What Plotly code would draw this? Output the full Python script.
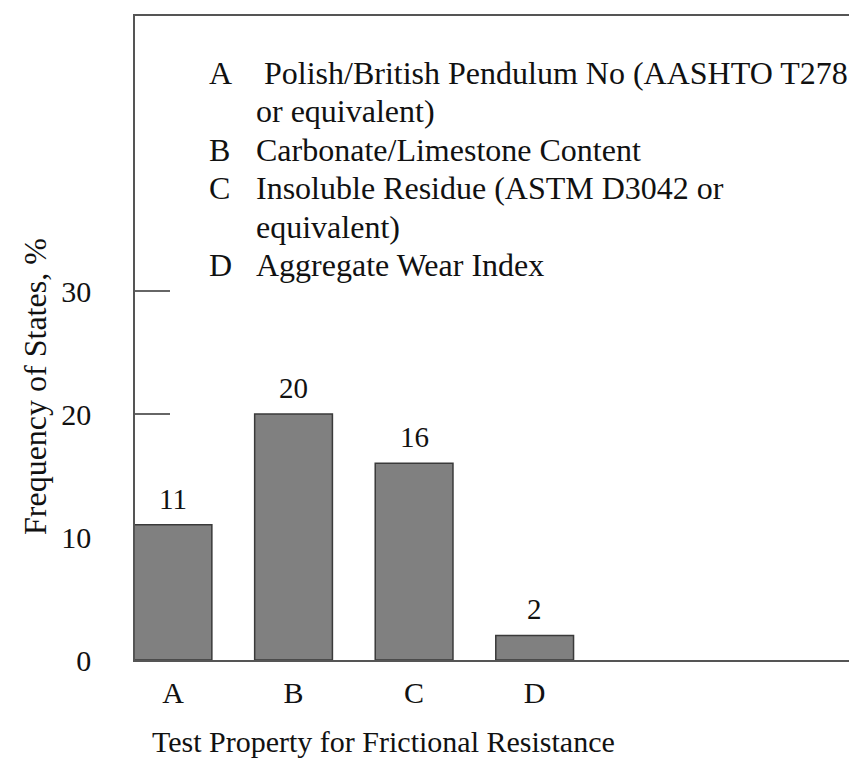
import plotly.graph_objects as go

categories = ["A", "B", "C", "D"]
values = [11, 20, 16, 2]
value_labels = ["11", "20", "16", "2"]
y_ticks = [0, 10, 20, 30]
legend_letters = ["A", "", "B", "C", "", "D"]
legend_texts = ["&nbsp;Polish/British Pendulum No (AASHTO T278", "or equivalent)",
                "Carbonate/Limestone Content", "Insoluble Residue (ASTM D3042 or",
                "equivalent)", "Aggregate Wear Index"]

W, H = 857, 762
L, R, T, B = 127, 0, 8, 110
FONT = "Liberation Serif, Times New Roman, serif"

fig = go.Figure()
fig.add_trace(go.Bar(
    x=categories, y=values, width=0.645,
    marker=dict(color="#808080", line=dict(color="#3a3a3a", width=1.5)),
    showlegend=False, hoverinfo="x+y",
))

for c, v, t in zip(categories, values, value_labels):
    fig.add_annotation(x=c, y=v, text=t, showarrow=False, yanchor="bottom",
                       yshift=8, font=dict(family=FONT, size=29, color="#111"))

plot_w = W - L - R
plot_h = H - T - B
def px_x(px):
    return (px - L) / plot_w
def px_y(py):
    return (H - B - py) / plot_h

y0 = 65
for i, (let, txt) in enumerate(zip(legend_letters, legend_texts)):
    yy = y0 + i * 38.4
    if let:
        fig.add_annotation(xref="paper", yref="paper", x=px_x(199), y=px_y(yy),
                           text=let, showarrow=False, xanchor="left", yanchor="middle",
                           font=dict(family=FONT, size=32, color="#111"))
    fig.add_annotation(xref="paper", yref="paper", x=px_x(246), y=px_y(yy),
                       text=txt, showarrow=False, xanchor="left", yanchor="middle",
                       font=dict(family=FONT, size=32, color="#111"))

# y-axis title
fig.add_annotation(xref="paper", yref="paper", x=px_x(27), y=px_y(379),
                   text="Frequency of States, %", textangle=-90, showarrow=False,
                   xanchor="center", yanchor="middle",
                   font=dict(family=FONT, size=32, color="#111"))

# x-axis title
fig.add_annotation(xref="paper", yref="paper", x=px_x(375), y=px_y(733),
                   text="Test Property for Frictional Resistance", showarrow=False,
                   xanchor="center", yanchor="middle",
                   font=dict(family=FONT, size=30, color="#111"))

fig.update_layout(
    width=W, height=H,
    margin=dict(l=L, r=R, t=T, b=B, pad=0),
    paper_bgcolor="white", plot_bgcolor="white",
    font=dict(family=FONT, color="#111"),
    xaxis=dict(
        type="category", range=[-0.315, 5.74],
        showline=True, linecolor="#555", linewidth=1.5, mirror=True,
        ticks="", showgrid=False, zeroline=False,
        tickfont=dict(family=FONT, size=30, color="#111"),
        ticklabelstandoff=5,
    ),
    yaxis=dict(
        range=[0, 52.36], tickvals=y_ticks, ticktext=[str(v) for v in y_ticks],
        showline=True, linecolor="#555", linewidth=1.5,
        ticks="inside", ticklen=35, tickcolor="#666", tickwidth=1.5,
        showgrid=False, zeroline=False, layer="below traces",
        tickfont=dict(family=FONT, size=30, color="#111"),
        ticklabelstandoff=36,
    ),
)

fig.write_html("out.html")
